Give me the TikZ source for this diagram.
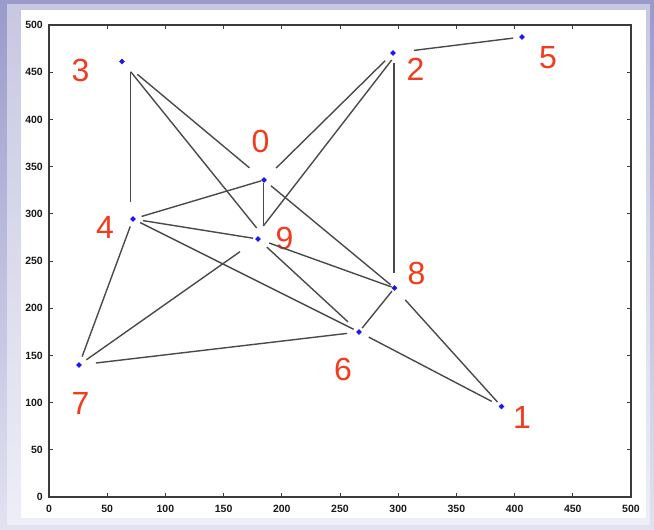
\documentclass[tikz,border=0pt]{standalone}
\usepackage{fontspec}
\setmainfont{Liberation Sans}
\usetikzlibrary{shapes.geometric,calc}
\definecolor{lavdark}{HTML}{9A9ACB}
\definecolor{lavlight}{HTML}{E2E2F2}
\definecolor{labred}{HTML}{F23B1C}
\definecolor{edgegray}{HTML}{4A4A4A}
\definecolor{mkblue}{HTML}{1A1AF0}
\tikzset{
  edge/.style={draw=edgegray, line width=1.4pt},
  axisline/.style={draw=edgegray!80!black, line width=1.4pt},
  tickline/.style={draw=edgegray!80!black, line width=1pt},
  mk/.style={diamond, aspect=1, fill=mkblue, inner sep=0pt, minimum size=6pt},
  lab/.style={text=labred, font=\fontsize{32}{32}\selectfont, inner sep=0pt},
  ticklab/.style={font=\bfseries\fontsize{10.5}{10.5}\selectfont, inner sep=0pt, text=black!90}
}
\begin{document}
\begin{tikzpicture}[x=1pt, y=-1pt]
\useasboundingbox (0,0) rectangle (654,530);
% background frame
\shade[top color=lavdark, bottom color=lavlight] (0,0) rectangle (654,530);
\fill[white, opacity=0.45] (7,4) rectangle (650,525);
\fill[white] (21,10) rectangle (646,518);
% axes box
\draw[axisline] (49,25) rectangle (631,497);
\foreach \k/\t in {0/0,1/50,2/100,3/150,4/200,5/250,6/300,7/350,8/400,9/450,10/500} {
  \pgfmathsetmacro{\xx}{49+58.2*\k}
  \pgfmathsetmacro{\yy}{497-47.2*\k}
  \draw[tickline] (\xx,497) -- (\xx,493);
  \draw[tickline] (\xx,25) -- (\xx,29);
  \draw[tickline] (49,\yy) -- (53,\yy);
  \draw[tickline] (631,\yy) -- (627,\yy);
  \node[ticklab, anchor=north] (xt\k) at (\xx,505) {\t};
  \node[ticklab, anchor=east] (yt\k) at (43,\yy) {\t};
}
% markers
\node[mk] (m0) at (264,180) {};
\node[mk] (m1) at (501.5,406.5) {};
\node[mk] (m2) at (393,53) {};
\node[mk] (m3) at (122,61.5) {};
\node[mk] (m4) at (133,219) {};
\node[mk] (m5) at (522,37) {};
\node[mk] (m6) at (359,332) {};
\node[mk] (m7) at (79,365) {};
\node[mk] (m8) at (394.5,288) {};
\node[mk] (m9) at (258,239) {};
% labels
\node[lab] (l0) at (260.5,141) {0};
\node[lab] (l1) at (522,417) {1};
\node[lab] (l2) at (415.5,69) {2};
\node[lab] (l3) at (80.5,70) {3};
\node[lab] (l4) at (105,227) {4};
\node[lab] (l5) at (548,58) {5};
\node[lab] (l6) at (343,369) {6};
\node[lab] (l7) at (80.5,403) {7};
\node[lab] (l8) at (416.5,273) {8};
\node[lab] (l9) at (284.5,238) {9};
% edges
\draw[edge] ($(m3.center)+(8.7,10.2)$) -- ($(m4.center)+(-2.3,-17.3)$);
\draw[edge, shorten <=20pt, shorten >=19pt] (m3.center) -- (m0.center);
\draw[edge] ($(m3.center)+(8.7,10.2)$) -- ($(m9.center)+(-1.3,-11)$);
\draw[edge, shorten <=9pt, shorten >=3pt] (m4.center) -- (m0.center);
\draw[edge, shorten <=10pt, shorten >=5pt] (m4.center) -- (m9.center);
\draw[edge, shorten <=8pt, shorten >=9pt] (m4.center) -- (m7.center);
\draw[edge, shorten <=8pt, shorten >=6pt] (m4.center) -- (m6.center);
\draw[edge, shorten <=9pt, shorten >=22pt] (m7.center) -- (m9.center);
\draw[edge, shorten <=17pt, shorten >=12pt] (m7.center) -- (m6.center);
\draw[edge, shorten <=12pt, shorten >=15pt] (m9.center) -- (m6.center);
\draw[edge] ($(m0.center)+(-0.7,3)$) -- ($(m9.center)+(5.3,-13)$);
\draw[edge] ($(m9.center)+(5.3,-13)$) -- ($(m2.center)+(-1.3,7)$);
\draw[edge, shorten <=17pt, shorten >=11pt] (m0.center) -- (m2.center);
\draw[edge, shorten <=21pt, shorten >=9pt] (m2.center) -- (m5.center);
\draw[edge] ($(m2.center)+(1,10)$) -- ($(m8.center)+(-0.5,-15)$);
\draw[edge, shorten <=9pt, shorten >=5pt] (m0.center) -- (m8.center);
\draw[edge, shorten <=12pt, shorten >=3pt] (m9.center) -- (m8.center);
\draw[edge, shorten <=5pt, shorten >=4pt] (m6.center) -- (m8.center);
\draw[edge, shorten <=11pt, shorten >=11pt] (m6.center) -- (m1.center);
\draw[edge, shorten <=16pt, shorten >=6pt] (m8.center) -- (m1.center);
\end{tikzpicture}
\end{document}
